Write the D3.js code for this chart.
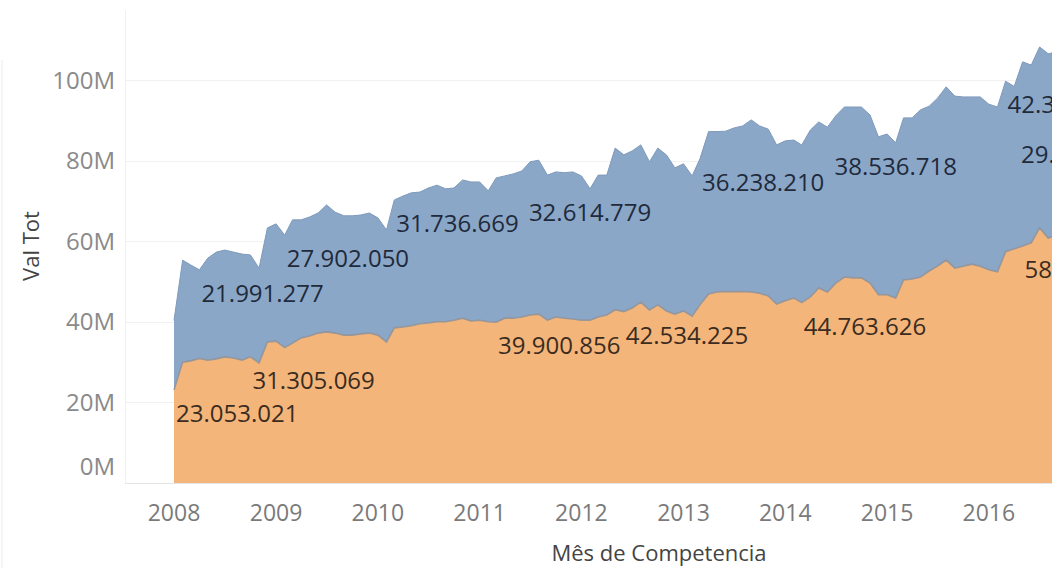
<!DOCTYPE html>
<html>
<head>
<meta charset="utf-8">
<script src="https://cdn.jsdelivr.net/npm/d3@7"></script>
<style>
  body { margin: 0; background: #fff; }
  svg { display: block; font-family: "Open Sans", sans-serif; }
</style>
</head>
<body>
<svg id="chart" width="1052" height="568"></svg>
<script>
// Monthly values (millions) from Jan 2008, bottom series (orange) and top series (blue).
var orangeVals = [
  23.053021, 30.0, 30.3, 30.9, 30.5, 30.8, 31.3, 31.0, 30.5, 31.305069, 29.8, 35.0,
  35.2, 33.6, 34.7, 36.0, 36.5, 37.2, 37.5, 37.2, 36.7, 36.7, 37.0, 37.2,
  36.7, 35.0, 38.5, 38.7, 39.0, 39.5, 39.7, 40.0, 40.0, 40.4, 40.9, 40.2,
  40.4, 40.0, 39.900856, 40.9, 40.9, 41.2, 41.7, 41.9, 40.4, 41.2, 40.9, 40.7,
  40.4, 40.4, 41.2, 41.7, 43.0, 42.534225, 43.4, 44.9, 42.9, 44.2, 42.7, 41.9,
  42.7, 41.4, 44.2, 46.9, 47.4, 47.5, 47.5, 47.5, 47.4, 47.1, 46.4, 44.4,
  45.2, 45.9, 44.763626, 46.2, 48.4, 47.4, 49.6, 51.1, 50.9, 50.9, 49.6, 46.7,
  46.7, 45.9, 50.4, 50.6, 51.1, 52.6, 53.8, 55.3, 53.3, 53.8, 54.3, 53.8,
  52.9, 52.4, 57.4, 58.1, 58.804317, 59.6, 63.3, 60.8, 61.5, 62.0, 60.9, 57.9
];
var blueVals = [
  17.3, 25.3, 23.8, 21.991277, 25.3, 26.5, 26.5, 26.3, 26.3, 25.3, 23.5, 28.3,
  29.1, 27.902050, 30.6, 29.3, 29.5, 29.8, 31.5, 30.0, 29.6, 29.6, 29.5, 29.8,
  29.1, 27.8, 31.736669, 32.5, 33.0, 32.7, 33.5, 33.9, 33.0, 32.8, 34.3, 34.5,
  34.3, 32.5, 35.8, 35.3, 35.8, 36.2, 38.0, 38.2, 36.0, 36.0, 36.1, 36.5,
  35.8, 32.614779, 35.2, 34.7, 40.1, 38.9, 39.0, 39.0, 36.8, 38.9, 38.7, 36.3,
  36.5, 34.8, 36.238210, 40.3, 39.8, 39.8, 40.6, 41.1, 42.7, 41.5, 41.4, 39.5,
  39.7, 39.2, 39.1, 41.4, 41.2, 40.9, 41.5, 42.2, 42.4, 42.4, 41.7, 39.2,
  39.9, 38.536718, 40.2, 40.0, 41.5, 40.9, 41.7, 43.0, 42.7, 42.0, 41.5, 42.0,
  41.1, 40.9, 42.318540, 40.3, 45.7, 44.1, 44.9, 45.7, 45.5, 45.5, 45.1, 29.412603
];
var yTicks = [0, 20, 40, 60, 80, 100];
var yearTicks = [2008, 2009, 2010, 2011, 2012, 2013, 2014, 2015, 2016];

// Mark labels: month index, series, alignment on the point.
var markLabels = [
  {m: 0, key: 'orange', align: 'start'},
  {m: 9, key: 'orange', align: 'start'},
  {m: 38, key: 'orange', align: 'start'},
  {m: 53, key: 'orange', align: 'start'},
  {m: 74, key: 'orange', align: 'start'},
  {m: 100, key: 'orange', align: 'start'},
  {m: 3, key: 'blue', align: 'start'},
  {m: 13, key: 'blue', align: 'start'},
  {m: 26, key: 'blue', align: 'start'},
  {m: 49, key: 'blue', align: 'middle'},
  {m: 62, key: 'blue', align: 'start'},
  {m: 85, key: 'blue', align: 'middle'},
  {m: 98, key: 'blue', align: 'start'},
  {m: 107, key: 'blue', align: 'middle'}
];

var colors = {orange: '#f4b57b', blue: '#8ba7c8'};
var textColors = {orange: '#3b2c1f', blue: '#1f2a3b'};

var svg = d3.select('#chart');
var months = d3.timeMonth.range(new Date(2008, 0, 1), new Date(2017, 0, 1));

// Table for the stack.
var rows = months.map(function(d, i){
  return {date: d, orange: orangeVals[i], blue: blueVals[i]};
});

var x = d3.scaleTime()
          .domain([new Date(2008, 0, 1), new Date(2017, 0, 1)])
          .range([174, 174 + 108 * 8.49]);
var y = d3.scaleLinear().domain([0, 100]).range([483, 80]);

var stacked = d3.stack().keys(['orange', 'blue'])(rows);

// Faint borders and gridlines.
svg.append('line')
   .attr('x1', 2).attr('x2', 2).attr('y1', 60).attr('y2', 568)
   .style('stroke', '#ececec');
svg.append('line')
   .attr('x1', 125.5).attr('x2', 125.5).attr('y1', 10).attr('y2', 483)
   .style('stroke', '#f1f1f1');

svg.selectAll('.grid')
   .data(yTicks)
   .enter()
   .append('line')
   .attr('class', 'grid')
   .attr('x1', 125)
   .attr('x2', 1052)
   .attr('y1', function(d) { return Math.round(y(d)) + 0.5; })
   .attr('y2', function(d) { return Math.round(y(d)) + 0.5; })
   .style('stroke', function(d) { return d === 0 ? '#e4e4e4' : '#f1f1f1'; });

// Stacked areas.
var area = d3.area()
             .x(function(d) { return x(d.data.date); })
             .y0(function(d) { return y(d[0]); })
             .y1(function(d) { return y(d[1]); });

svg.selectAll('.band')
   .data(stacked)
   .enter()
   .append('path')
   .attr('class', 'band')
   .attr('d', area)
   .style('fill', function(d) { return colors[d.key]; });

// Edges along the top of each band.
var topLine = d3.line()
                .x(function(d) { return x(d.data.date); })
                .y(function(d) { return y(d[1]); });

svg.append('path')
   .attr('d', topLine(stacked[1]))
   .style('fill', 'none')
   .style('stroke', '#7f9abb')
   .style('stroke-width', 1);
svg.append('path')
   .attr('d', topLine(stacked[0]))
   .style('fill', 'none')
   .style('stroke', '#8e9097')
   .style('stroke-width', 1.6)
   .style('opacity', 0.85);

// Mark labels, formatted the Brazilian way.
var br = d3.formatLocale({decimal: ',', thousands: '.', grouping: [3], currency: ['R$', '']});
var fmt = br.format(',.0f');
var layerIndex = {orange: 0, blue: 1};

svg.selectAll('.mark-label')
   .data(markLabels)
   .enter()
   .append('text')
   .attr('class', 'mark-label')
   .attr('x', function(d) { return x(months[d.m]) + (d.align === 'start' ? 2 : 0); })
   .attr('y', function(d) { return y(stacked[layerIndex[d.key]][d.m][1]) + 32; })
   .attr('text-anchor', function(d) { return d.align; })
   .style('font-size', '24px')
   .style('fill', function(d) { return textColors[d.key]; })
   .text(function(d) {
     var v = d.key === 'orange' ? orangeVals[d.m] : blueVals[d.m];
     return fmt(Math.round(v * 1e6));
   });

// Y axis labels (0M kept inside the pane).
svg.selectAll('.y-label')
   .data(yTicks)
   .enter()
   .append('text')
   .attr('class', 'y-label')
   .attr('x', 115)
   .attr('y', function(d) { return y(d) + (d === 0 ? -8 : 8.5); })
   .attr('text-anchor', 'end')
   .style('font-size', '24px')
   .style('fill', '#8a8a8a')
   .text(function(d) { return d + 'M'; });

// X axis year labels.
svg.selectAll('.x-label')
   .data(yearTicks)
   .enter()
   .append('text')
   .attr('class', 'x-label')
   .attr('x', function(d) { return x(new Date(d, 0, 1)); })
   .attr('y', 520.5)
   .attr('text-anchor', 'middle')
   .style('font-size', '23px')
   .style('fill', '#7a7a7a')
   .text(function(d) { return d; });

// Axis titles.
svg.append('text')
   .attr('x', 659)
   .attr('y', 561)
   .attr('text-anchor', 'middle')
   .style('font-size', '22px')
   .style('fill', '#444')
   .text('Mês de Competencia');

svg.append('text')
   .attr('transform', 'translate(39,246) rotate(-90)')
   .attr('text-anchor', 'middle')
   .style('font-size', '22px')
   .style('fill', '#444')
   .text('Val Tot');
</script>
</body>
</html>
